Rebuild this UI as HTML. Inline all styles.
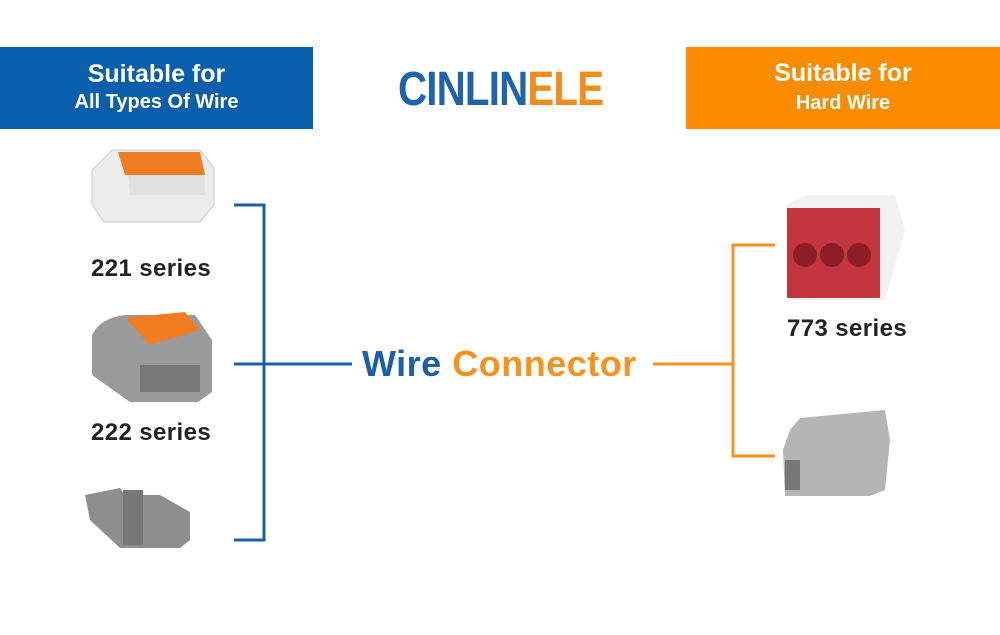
<!DOCTYPE html>
<html><head><meta charset="utf-8"><style>
body{margin:0;width:1000px;height:635px;background:#fff;position:relative;overflow:hidden;font-family:"Liberation Sans",sans-serif}
.box{position:absolute;top:47px;height:82px;color:#fff;text-align:center;font-weight:bold}
.lbl{position:absolute;font-weight:bold;font-size:24px;color:#222;letter-spacing:0.4px}
</style></head><body>
<div class="box" style="left:0;width:313px;background:#0a5eab"><div style="font-size:25px;margin-top:13px">Suitable for</div><div style="font-size:20px;margin-top:2px">All Types Of Wire</div></div>
<div class="box" style="left:686px;width:314px;background:#fb8c00"><div style="font-size:25px;margin-top:12px">Suitable for</div><div style="font-size:20px;margin-top:4px">Hard Wire</div></div>
<div style="position:absolute;left:398px;top:66px;font-size:48px;font-weight:bold;letter-spacing:-1px;transform:scaleX(0.84);transform-origin:left;line-height:48px"><span style="color:#1f63ad">CINLIN</span><span style="color:#f28c1e">ELE</span></div>
<svg width="1000" height="635" style="position:absolute;left:0;top:0">
<g stroke="#1a5fae" stroke-width="3" fill="none"><path d="M234 205H264V540H234M234 364H352"/></g>
<g stroke="#f7921e" stroke-width="3" fill="none"><path d="M653 364H733M775 245H733V456H775"/></g>
<g><path d="M92 170L112 150H200L214 168V205L200 222H104L92 205Z" fill="#ececec" stroke="#ccc"/><path d="M118 152H200L205 175H125Z" fill="#f07d22"/><path d="M128 175H205V195H130Z" fill="#e0e0e0"/></g>
<g><path d="M92 335Q100 318 125 315H195L212 340V392L198 402H130L92 375Z" fill="#9a9a9a"/><path d="M125 318L185 312L200 330L150 345Z" fill="#f07d22"/><path d="M140 365H200V392H140Z" fill="#555" opacity=".5"/></g>
<g><path d="M85 495L120 488L125 495H160L190 512V540L180 548H120L90 520Z" fill="#8e8e8e"/><rect x="123" y="490" width="20" height="55" fill="#777"/></g>
<g><path d="M786 205L805 195H895L905 230L885 300H790Z" fill="#f1f1f1"/><rect x="787" y="208" width="93" height="90" fill="#c3363f"/><circle cx="805" cy="255" r="12" fill="#8d1d25"/><circle cx="832" cy="255" r="12" fill="#8d1d25"/><circle cx="859" cy="255" r="12" fill="#8d1d25"/></g>
<g><path d="M790 430L800 418L885 410L890 440L885 490L870 496H785L783 450Z" fill="#b5b5b5"/><path d="M785 460H800V490H785Z" fill="#777"/></g>
</svg>
<div class="lbl" style="left:91px;top:255px">221 series</div>
<div class="lbl" style="left:91px;top:419px">222 series</div>
<div class="lbl" style="left:787px;top:315px">773 series</div>
<div style="position:absolute;left:362px;top:343px;font-size:36px;font-weight:bold;white-space:nowrap;letter-spacing:0.5px"><span style="color:#1a5fae">Wire</span> <span style="color:#f7921e">Connector</span></div>
</body></html>
